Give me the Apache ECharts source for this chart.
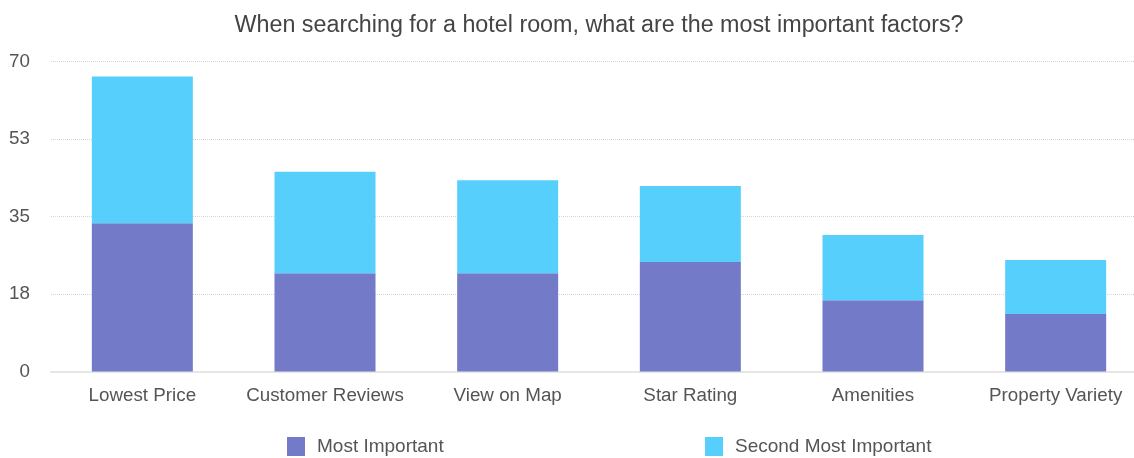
<!DOCTYPE html>
<html>
<head>
<meta charset="utf-8">
<style>
  html, body { margin: 0; padding: 0; background: #ffffff; overflow: hidden; }
  /* drawing surface is a little wider than the window; the plot runs past the right edge */
  #chart { width: 1160px; height: 458px; }
</style>
<script src="https://cdn.jsdelivr.net/npm/echarts@6/dist/echarts.min.js"></script>
</head>
<body>
<div id="chart"></div>
<script>
// Survey factors and the share of respondents ranking each one first / second
const categories = ['Lowest Price', 'Customer Reviews', 'View on Map', 'Star Rating', 'Amenities', 'Property Variety'];
const mostImportant = [33.5, 22.2, 22.2, 24.7, 16.1, 13.0];
const secondMostImportant = [33.1, 22.9, 21.0, 17.2, 14.7, 12.2];
const seriesNames = ['Most Important', 'Second Most Important'];

const FONT = '"Liberation Sans", Arial, Helvetica, sans-serif';
const LABEL_SIZE = 18.8;
const chart = echarts.init(document.getElementById('chart'));

const legendItem = (name, left) => ({
  data: [name],
  left: left, top: 432,
  itemWidth: 18, itemHeight: 19,
  icon: 'rect',
  textStyle: { fontFamily: FONT, fontSize: 19, color: '#555555', padding: [0, 0, 0, 7] }
});

chart.setOption({
  backgroundColor: '#ffffff',
  animation: false,
  title: {
    text: 'When searching for a hotel room, what are the most important factors?',
    left: 594,
    top: 9,
    textAlign: 'center',
    textStyle: { fontFamily: FONT, fontSize: 23.3, fontWeight: 'normal', color: '#444444' }
  },
  legend: [legendItem(seriesNames[0], 282), legendItem(seriesNames[1], 700)],
  grid: { left: 51, width: 1096, top: 61.5, height: 310, containLabel: false },
  xAxis: {
    type: 'category',
    data: categories,
    axisTick: { show: false },
    axisLine: { show: true, lineStyle: { color: '#e6e6e6', width: 2 } },
    axisLabel: { interval: 0, margin: 15, fontFamily: FONT, fontSize: LABEL_SIZE, color: '#555555' }
  },
  yAxis: {
    type: 'value',
    min: 0, max: 70, interval: 17.5,
    axisLine: { show: false },
    axisTick: { show: false },
    axisLabel: {
      margin: 21, fontFamily: FONT, fontSize: LABEL_SIZE, color: '#555555',
      formatter: v => String(Math.round(v))
    },
    splitLine: { show: true, lineStyle: { color: '#d6d6d6', type: 'dotted', width: 1 } }
  },
  series: [
    {
      name: seriesNames[0], type: 'bar', stack: 'total',
      data: mostImportant, barWidth: 101,
      itemStyle: { color: '#737bc8' }
    },
    {
      name: seriesNames[1], type: 'bar', stack: 'total',
      data: secondMostImportant, barWidth: 101,
      itemStyle: { color: '#56cffc' }
    }
  ]
});
</script>
</body>
</html>
